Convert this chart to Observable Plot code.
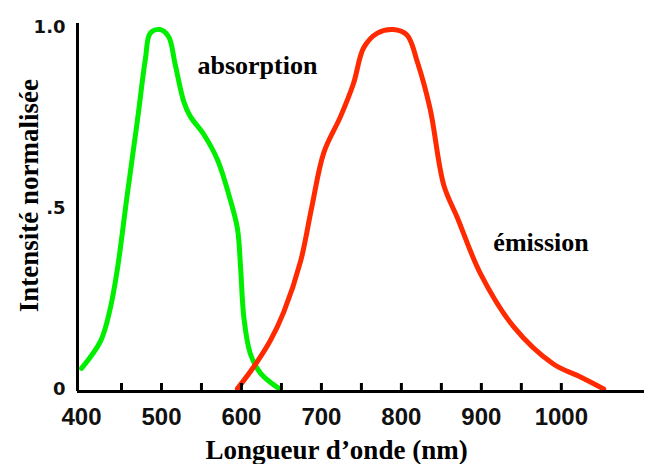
<!DOCTYPE html>
<html>
<head>
<meta charset="utf-8">
<script src="https://cdn.jsdelivr.net/npm/d3@7"></script>
<script src="https://cdn.jsdelivr.net/npm/@observablehq/plot@0.6"></script>
<style>
  html, body { margin: 0; padding: 0; background: #fff; }
  #chart svg { display: block; }
</style>
</head>
<body>
<div id="chart"></div>
<script>
// Absorption (green) spectrum: wavelength (nm) and normalized intensity
const absNm  = [400, 424, 436, 445, 457, 470, 480, 486, 498, 509, 517, 528, 536, 553, 570, 586, 595, 599, 603, 611, 624, 647];
const absVal = [0.064, 0.14, 0.23, 0.34, 0.54, 0.75, 0.92, 0.99, 1.0, 0.98, 0.905, 0.80, 0.76, 0.71, 0.64, 0.53, 0.45, 0.34, 0.205, 0.105, 0.05, 0.008];
// Emission (red) spectrum
const emiNm  = [595, 615, 636, 653, 674, 688, 703, 724, 740, 753, 770, 790, 807, 820, 836, 853, 870, 899, 940, 990, 1024, 1053];
const emiVal = [0.008, 0.067, 0.14, 0.22, 0.36, 0.51, 0.66, 0.76, 0.85, 0.95, 0.99, 1.0, 0.985, 0.91, 0.78, 0.57, 0.48, 0.325, 0.18, 0.076, 0.04, 0.007];

const xTickLabels = [400, 500, 600, 700, 800, 900, 1000];
const xMinorTicks = [450, 500, 550, 600, 650, 700, 750, 800, 850, 900, 950, 1000];
const yTicks = [0, 0.5, 1];
const yTickLabels = ["0", ".5", "1.0"];

const xTitle = "Longueur d\u2019onde (nm)";
const yTitle = "Intensit\u00e9 normalis\u00e9e";
const seriesLabels = [
  {name: "absorption", nm: 545, v: 0.90},
  {name: "\u00e9mission", nm: 915, v: 0.41}
];

const absData = absNm.map((d, i) => ({nm: d, v: absVal[i]}));
const emiData = emiNm.map((d, i) => ({nm: d, v: emiVal[i]}));

const serif = "'Liberation Serif', 'Times New Roman', serif";
const sans = "'Liberation Sans', Arial, Helvetica, sans-serif";
const wide = "'DejaVu Sans', Verdana, sans-serif";

const chart = Plot.plot({
  width: 648,
  height: 464,
  marginLeft: 77,
  marginRight: 4,
  marginTop: 23,
  marginBottom: 73,
  x: {domain: [395, 1104], axis: null},
  y: {domain: [0, 1.0166], axis: null},
  style: {background: "#fff"},
  marks: [
    Plot.line(absData, {x: "nm", y: "v", stroke: "#00ee00", strokeWidth: 5, curve: "catmull-rom"}),
    Plot.line(emiData, {x: "nm", y: "v", stroke: "#ff2a00", strokeWidth: 5, curve: "catmull-rom"}),
    // axes lines
    Plot.ruleX([395], {stroke: "#000", strokeWidth: 3}),
    Plot.ruleY([0], {stroke: "#000", strokeWidth: 3}),
    // inner ticks
    Plot.ruleX(xMinorTicks, {x: d => d, y1: 0, y2: 0, insetTop: -8, stroke: "#000", strokeWidth: 3}),
    // x tick labels
    Plot.text(xTickLabels, {x: d => d, y: 0, dy: 26, text: d => String(d), fontSize: 24, fontWeight: "bold", fontFamily: sans, fill: "#111"}),
    // y tick labels
    Plot.text(yTicks, {x: 395, y: d => d, dx: -12, dy: -2, text: (d, i) => yTickLabels[i], textAnchor: "end", fontSize: 18, fontWeight: "bold", fontFamily: wide, fill: "#111"}),
    // series labels
    Plot.text(seriesLabels, {x: "nm", y: "v", text: "name", textAnchor: "start", fontSize: 26, fontWeight: "bold", fontFamily: serif, fill: "#000"}),
    // axis titles
    Plot.text([xTitle], {x: 719, y: 0, dy: 59, text: d => d, fontSize: 27, fontWeight: "bold", fontFamily: serif, fill: "#000"}),
    Plot.text([yTitle], {x: 395, y: 0.541, dx: -48, text: d => d, rotate: -90, fontSize: 27, fontWeight: "bold", fontFamily: serif, fill: "#000"})
  ]
});
document.getElementById("chart").appendChild(chart);
</script>
</body>
</html>
